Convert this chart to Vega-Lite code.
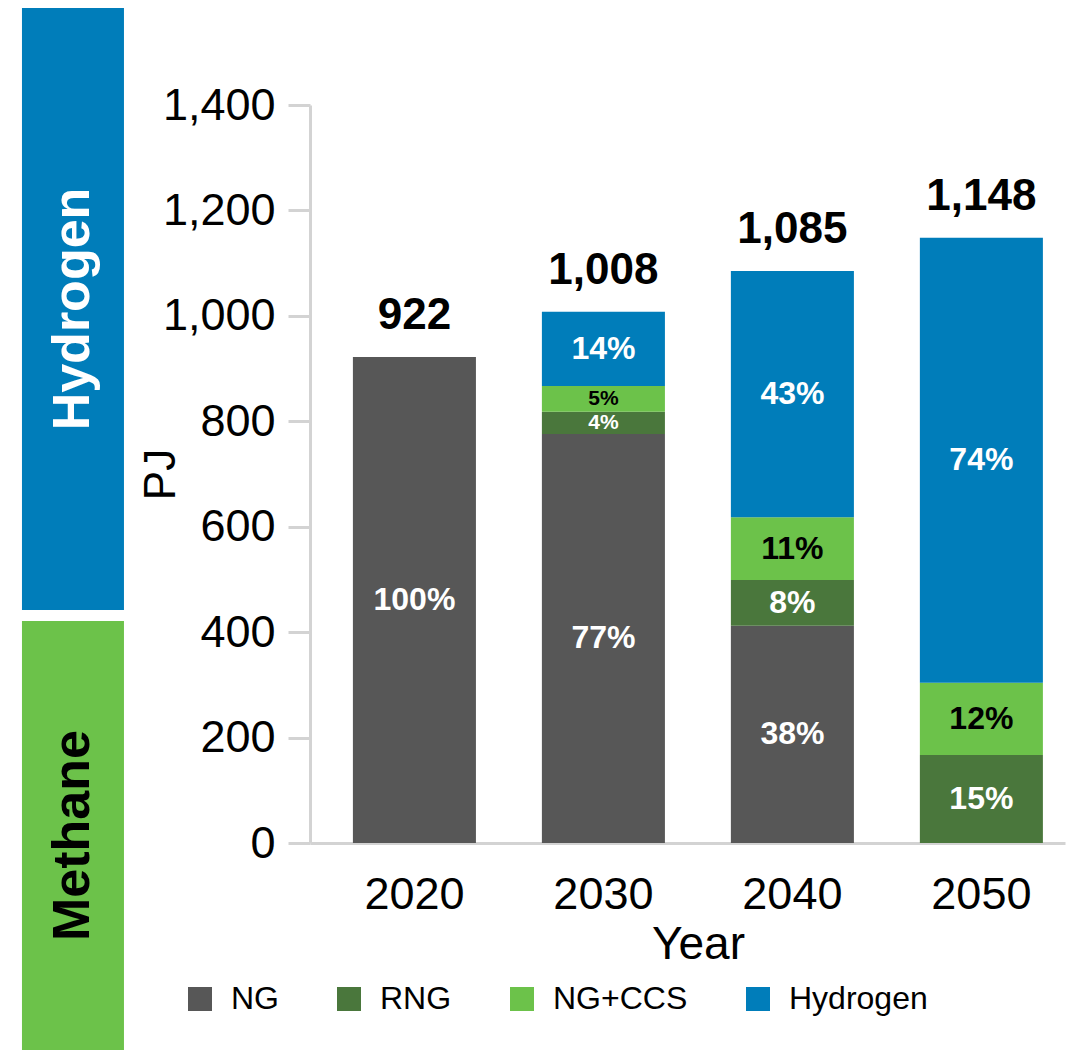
{
  "$schema": "https://vega.github.io/schema/vega-lite/v6.json",
  "width": 755,
  "height": 738,
  "autosize": "none",
  "padding": {"left": 310, "top": 105, "right": 6, "bottom": 207},
  "config": {"view": {"stroke": null}, "font": "Liberation Sans"},
  "datasets": {
    "energy": [
      {"year": "2020", "source": "NG", "o": 1, "value": 922, "pct": "100%"},
      {"year": "2030", "source": "NG", "o": 1, "value": 776, "pct": "77%"},
      {"year": "2030", "source": "RNG", "o": 2, "value": 42, "pct": "4%"},
      {"year": "2030", "source": "NG+CCS", "o": 3, "value": 49, "pct": "5%"},
      {"year": "2030", "source": "Hydrogen", "o": 4, "value": 141, "pct": "14%"},
      {"year": "2040", "source": "NG", "o": 1, "value": 412, "pct": "38%"},
      {"year": "2040", "source": "RNG", "o": 2, "value": 87, "pct": "8%"},
      {"year": "2040", "source": "NG+CCS", "o": 3, "value": 119, "pct": "11%"},
      {"year": "2040", "source": "Hydrogen", "o": 4, "value": 467, "pct": "43%"},
      {"year": "2050", "source": "RNG", "o": 2, "value": 167, "pct": "15%"},
      {"year": "2050", "source": "NG+CCS", "o": 3, "value": 137, "pct": "12%"},
      {"year": "2050", "source": "Hydrogen", "o": 4, "value": 844, "pct": "74%"}
    ],
    "regions": [
      {"region": "Hydrogen", "left": -0.3815, "right": -0.2464, "centre": -0.314, "top": 1584, "bottom": 442, "mid": 1013},
      {"region": "Methane", "left": -0.3815, "right": -0.2464, "centre": -0.314, "top": 421, "bottom": -393, "mid": 14}
    ]
  },
  "layer": [
    {
      "data": {"name": "energy"},
      "layer": [
        {
          "mark": {"type": "bar"},
          "encoding": {
            "x": {
              "field": "year", "type": "ordinal",
              "scale": {"paddingInner": 0.349, "paddingOuter": 0.172, "align": 0.66},
              "axis": {
                "title": "Year", "labelAngle": 0, "labelFontSize": 45, "labelColor": "#000000",
                "ticks": false, "tickSize": 0, "labelPadding": 29,
                "domainColor": "#d3d3d3", "domainWidth": 3,
                "titleFontSize": 46, "titleFontWeight": "normal", "titleColor": "#000000",
                "titleX": 388, "titleY": 79, "titleBaseline": "top"
              }
            },
            "y": {
              "field": "value", "type": "quantitative", "stack": "zero",
              "scale": {"domain": [0, 1400], "nice": false},
              "axis": {
                "title": "PJ", "values": [0, 200, 400, 600, 800, 1000, 1200, 1400], "format": ",.0f",
                "labelFontSize": 45, "labelColor": "#000000", "labelPadding": 13,
                "tickSize": 22, "tickColor": "#d3d3d3", "tickWidth": 3,
                "domainColor": "#d3d3d3", "domainWidth": 3, "grid": false,
                "titleFontSize": 44, "titleFontWeight": "normal", "titleColor": "#000000", "titlePadding": -21
              }
            },
            "color": {
              "field": "source", "type": "nominal",
              "scale": {"domain": ["NG", "RNG", "NG+CCS", "Hydrogen"], "range": ["#575757", "#4a773c", "#6cc24a", "#007dba"]},
              "legend": {
                "orient": "none", "legendX": -126, "legendY": 878, "direction": "horizontal", "columns": 4,
                "title": null, "symbolType": "square", "symbolSize": 576, "symbolStrokeWidth": 0,
                "labelFontSize": 32, "labelColor": "#000000", "labelOffset": 15, "columnPadding": 54
              }
            },
            "order": {"field": "o", "type": "quantitative"}
          }
        },
        {
          "transform": [
            {"stack": "value", "groupby": ["year"], "sort": [{"field": "o"}], "as": ["v0", "v1"]},
            {"calculate": "(datum.v0 + datum.v1) / 2", "as": "centreValue"}
          ],
          "mark": {"type": "text", "fontWeight": "bold", "align": "center", "baseline": "middle"},
          "encoding": {
            "x": {"field": "year", "type": "ordinal"},
            "y": {"field": "centreValue", "type": "quantitative", "scale": {"domain": [0, 1400], "nice": false}},
            "text": {"field": "pct"},
            "size": {"condition": {"test": "datum.value < 60", "value": 21}, "value": 32},
            "color": {"condition": {"test": "datum.source === 'NG+CCS'", "value": "#000000"}, "value": "#ffffff"}
          }
        },
        {
          "transform": [
            {"aggregate": [{"op": "sum", "field": "value", "as": "total"}], "groupby": ["year"]}
          ],
          "mark": {"type": "text", "fontWeight": "bold", "fontSize": 44, "align": "center", "baseline": "alphabetic", "dy": -28, "color": "#000000"},
          "encoding": {
            "x": {"field": "year", "type": "ordinal"},
            "y": {"field": "total", "type": "quantitative", "scale": {"domain": [0, 1400], "nice": false}},
            "text": {"field": "total", "type": "quantitative", "format": ",.0f"}
          }
        }
      ]
    },
    {
      "data": {"name": "regions"},
      "layer": [
        {
          "mark": {"type": "rect", "clip": false},
          "encoding": {
            "x": {"field": "left", "type": "quantitative", "scale": {"domain": [0, 1], "nice": false, "zero": false}, "axis": null},
            "x2": {"field": "right"},
            "y": {"field": "top", "type": "quantitative", "scale": {"domain": [0, 1400], "nice": false}},
            "y2": {"field": "bottom"},
            "color": {"condition": {"test": "datum.region === 'Hydrogen'", "value": "#007dba"}, "value": "#6cc24a"}
          }
        },
        {
          "mark": {"type": "text", "angle": 270, "fontSize": 52, "fontWeight": "bold", "align": "center", "baseline": "middle", "clip": false},
          "encoding": {
            "x": {"field": "centre", "type": "quantitative", "scale": {"domain": [0, 1], "nice": false, "zero": false}, "axis": null},
            "y": {"field": "mid", "type": "quantitative", "scale": {"domain": [0, 1400], "nice": false}},
            "text": {"field": "region"},
            "color": {"condition": {"test": "datum.region === 'Hydrogen'", "value": "#ffffff"}, "value": "#000000"}
          }
        }
      ]
    }
  ],
  "resolve": {"scale": {"x": "independent"}}
}
